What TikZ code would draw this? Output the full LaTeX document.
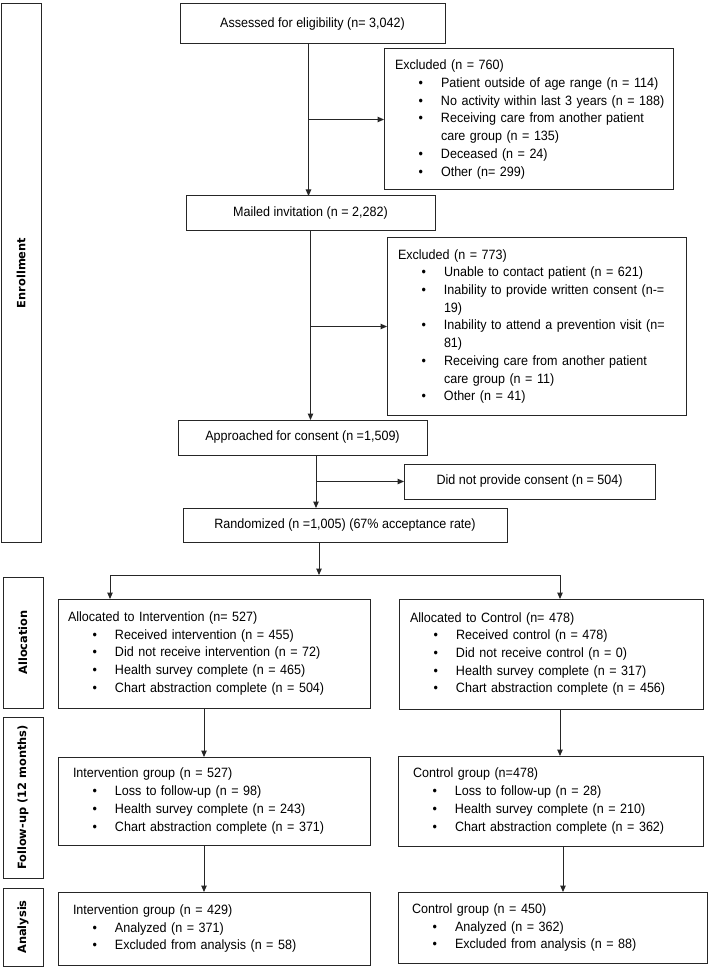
\documentclass[tikz,border=0pt]{standalone}
\usepackage{fontspec}
\setmainfont{Liberation Sans}[FakeStretch=0.93]
\newfontfamily\sidefont{DejaVu Sans}
\usetikzlibrary{arrows.meta}
\newcommand{\ttl}[2]{\hspace*{#1pt}\mbox{#2}}
\newcommand{\bitem}[1]{\hspace*{34.5pt}\makebox[22.5pt][l]{\textbullet}\mbox{#1}}
\newcommand{\cont}[1]{\hspace*{57pt}\mbox{#1}}
\tikzset{
  x=1pt, y=-1pt,
  box/.style={draw=black!85, line width=1pt, inner sep=0pt, outer sep=0pt,
    font=\fontsize{13.5}{17.7}\selectfont, text=black},
  lbox/.style={box, align=left},
  sidebox/.style={draw=black!85, line width=1pt, inner sep=0pt, outer sep=0pt, minimum width=40pt},
  sidelabel/.style={rotate=90, font=\sidefont\bfseries\fontsize{11.4}{13}\selectfont, inner sep=0pt},
  arr/.style={draw=black!85, line width=1pt, -{Triangle[length=6.5pt,width=5.5pt]}},
  ln/.style={draw=black!85, line width=1pt}
}
\begin{document}
\begin{tikzpicture}
\useasboundingbox (0,0) rectangle (709,968);

% side boxes
\node[sidebox, minimum height=538pt] (sEnr) at (21,273) {};
\node[sidelabel] (lEnr) at (sEnr.center) {Enrollment};
\node[sidebox, minimum height=131pt] (sAll) at (23,642.5) {};
\node[sidelabel] (lAll) at (sAll.center) {Allocation};
\node[sidebox, minimum height=161pt] (sFU) at (23,797.5) {};
\node[sidelabel] (lFU) at (sFU.center) {Follow-up (12 months)};
\node[sidebox, minimum height=78pt] (sAn) at (23,927) {};
\node[sidelabel] (lAn) at (sAn.center) {Analysis};

% enrollment boxes
\node[box, minimum width=265pt, minimum height=40pt] (assess) at (312.5,24) {Assessed for eligibility (n= 3,042)};
\node[lbox, minimum width=289pt, text width=289pt, minimum height=141pt] (excl1) at (528.5,119.5) {%
\ttl{11}{Excluded (n = 760)}\\
\bitem{Patient outside of age range (n = 114)}\\
\bitem{No activity within last 3 years (n = 188)}\\
\bitem{Receiving care from another patient}\\
\cont{care group (n = 135)}\\
\bitem{Deceased (n = 24)}\\
\bitem{Other (n= 299)}};
\node[box, minimum width=249pt, minimum height=35pt] (mailed) at (310.5,213.5) {Mailed invitation (n = 2,282)};
\node[lbox, minimum width=299pt, text width=299pt, minimum height=177pt] (excl2) at (536.5,326.5) {%
\ttl{11}{Excluded (n = 773)}\\
\bitem{Unable to contact patient (n = 621)}\\
\bitem{Inability to provide written consent (n-=}\\
\cont{19)}\\
\bitem{Inability to attend a prevention visit (n=}\\
\cont{81)}\\
\bitem{Receiving care from another patient}\\
\cont{care group (n = 11)}\\
\bitem{Other (n = 41)}};
\node[box, minimum width=249pt, minimum height=35pt] (appr) at (302.5,437.5) {Approached for consent (n =1,509)};
\node[box, minimum width=251pt, minimum height=35pt] (didnot) at (529.5,481.5) {Did not provide consent (n = 504)};
\node[box, minimum width=324pt, minimum height=34pt] (rand) at (345,525) {Randomized (n =1,005) (67\% acceptance rate)};

% allocation
\node[lbox, minimum width=312pt, text width=312pt, minimum height=109pt] (allocI) at (214,653.5) {%
\ttl{10}{Allocated to Intervention (n= 527)}\\
\bitem{Received intervention (n = 455)}\\
\bitem{Did not receive intervention (n = 72)}\\
\bitem{Health survey complete (n = 465)}\\
\bitem{Chart abstraction complete (n = 504)}};
\node[lbox, minimum width=304pt, text width=304pt, minimum height=110pt] (allocC) at (551,654) {%
\ttl{11}{Allocated to Control (n= 478)}\\
\bitem{Received control (n = 478)}\\
\bitem{Did not receive control (n = 0)}\\
\bitem{Health survey complete (n = 317)}\\
\bitem{Chart abstraction complete (n = 456)}};

% follow-up
\node[lbox, minimum width=312pt, text width=312pt, minimum height=88pt] (fuI) at (214,801) {%
\ttl{15}{Intervention group (n = 527)}\\
\bitem{Loss to follow-up (n = 98)}\\
\bitem{Health survey complete (n = 243)}\\
\bitem{Chart abstraction complete (n = 371)}};
\node[lbox, minimum width=305pt, text width=305pt, minimum height=90pt] (fuC) at (550.5,801) {%
\ttl{15}{Control group (n=478)}\\
\bitem{Loss to follow-up (n = 28)}\\
\bitem{Health survey complete (n = 210)}\\
\bitem{Chart abstraction complete (n = 362)}};

% analysis
\node[lbox, minimum width=312pt, text width=312pt, minimum height=73pt] (anI) at (214,928.5) {%
\ttl{15}{Intervention group (n = 429)}\\
\bitem{Analyzed (n = 371)}\\
\bitem{Excluded from analysis (n = 58)}};
\node[lbox, minimum width=309pt, text width=309pt, minimum height=71pt] (anC) at (552.5,927.5) {%
\ttl{14}{Control group (n = 450)}\\
\bitem{Analyzed (n = 362)}\\
\bitem{Excluded from analysis (n = 88)}};

% connectors
\draw[arr] ([xshift=-4pt]assess.south) -- ([xshift=-4pt]assess.south |- mailed.north);
\draw[arr] ([xshift=-4pt]assess.south |- excl1.west) -- (excl1.west);
\draw[arr] (mailed.south) -- (mailed.south |- appr.north);
\draw[arr] (mailed.south |- excl2.west) -- (excl2.west);
\draw[arr] ([xshift=13.5pt]appr.south) -- ([xshift=13.5pt]appr.south |- rand.north);
\draw[arr] ([xshift=13.5pt]appr.south |- didnot.west) -- (didnot.west);
\coordinate (spl) at (319,575);
\coordinate (sL) at (110,575);
\coordinate (sR) at (560,575);
\draw[arr] (rand.south -| spl) -- (spl);
\draw[ln] (sL) -- (sR);
\draw[arr] (sL) -- (sL |- allocI.north);
\draw[arr] (sR) -- (sR |- allocC.north);
\draw[arr] ([xshift=-10pt]allocI.south) -- ([xshift=-10pt]allocI.south |- fuI.north);
\draw[arr] ([xshift=9pt]allocC.south) -- ([xshift=9pt]allocC.south |- fuC.north);
\draw[arr] ([xshift=-10pt]fuI.south) -- ([xshift=-10pt]fuI.south |- anI.north);
\draw[arr] ([xshift=12.5pt]fuC.south) -- ([xshift=12.5pt]fuC.south |- anC.north);
\end{tikzpicture}
\end{document}
